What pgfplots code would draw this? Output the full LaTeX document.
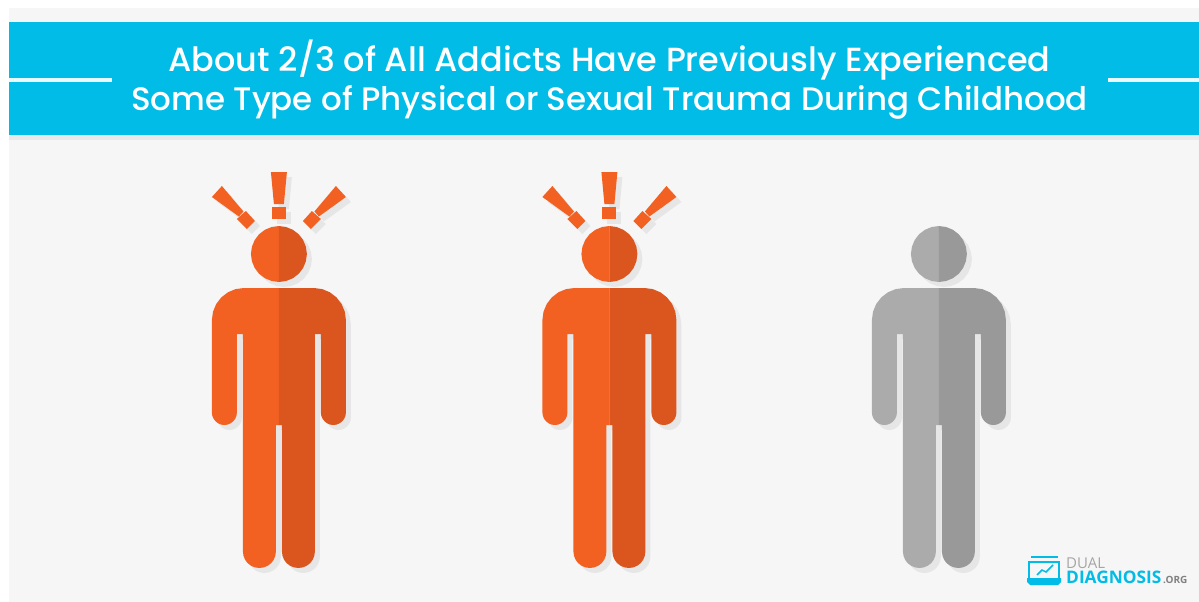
\documentclass[border=0pt]{standalone}
\usepackage{pgfplots}
\pgfplotsset{compat=1.18}
\usepackage{pgfplotstable}
\usepackage{fontspec}
\setmainfont{Poppins}
\newfontfamily\titlefont{Poppins Medium}
\newfontfamily\logofont{Open Sans}

\definecolor{paper}{HTML}{F6F6F6}
\definecolor{banner}{HTML}{00BCE6}
\definecolor{bannershadow}{HTML}{E9E9E9}
\definecolor{shadow}{HTML}{E6E6E6}
\definecolor{orangeL}{HTML}{F26122}
\definecolor{orangeD}{HTML}{DB551E}
\definecolor{grayL}{HTML}{ABABAB}
\definecolor{grayD}{HTML}{999999}
\definecolor{logogray}{HTML}{A6A6A6}

% left half of the figure, x relative to its centre, y in image pixels
\pgfplotstableread{
x y
0 288
-35 288
-43.3 289.1
-51 292.3
-57.6 297.4
-62.7 304
-65.9 311.7
-67 320
-67 412.5
-66.6 415.7
-65.3 418.75
-63.3 421.3
-60.75 423.3
-57.7 424.6
-54.5 425
-51.3 424.6
-48.25 423.3
-45.7 421.3
-43.7 418.75
-42.4 415.7
-42 412.5
-42 334
-36 334
-36 551.5
-35.4 555.8
-33.8 559.75
-31.2 563.2
-27.75 565.8
-23.8 567.4
-19.5 568
-15.2 567.4
-11.25 565.8
-7.8 563.2
-5.2 559.75
-3.6 555.8
-3 551.5
-3 425
0 425
}\bodytbl

\pgfplotstableread{
x y
0 226
-7.2 227
-14 229.8
-19.8 234.2
-24.2 240
-27 246.8
-28 254
-27 261.2
-24.2 268
-19.8 273.8
-14 278.2
-7.2 281
0 282
}\headtbl

\pgfplotstableread{
x y
-8 172
8 172
5 204
-5 204
}\barmid
\pgfplotstableread{
x y
-7 207
7 207
7 219
-7 219
}\dotmid
\pgfplotstableread{
x y
-57 186
-67 197
-40 216.5
-35.5 211.5
}\barside
\pgfplotstableread{
x y
-33 211
-24 221
-32 229
-42 219
}\dotside

% colour, centre x, mirror sign, y shift, table
\newcommand\shape[5]{\addplot[fill=#1,draw=none] table[x expr=#2+#3*(\thisrow{x}),y expr=\thisrow{y}+#4]{#5};}

\newcommand\figureat[3]{%
  \shape{shadow}{#1+5}{1}{5}{\bodytbl}
  \shape{shadow}{#1+5}{-1}{5}{\bodytbl}
  \shape{shadow}{#1+5}{1}{5}{\headtbl}
  \shape{shadow}{#1+5}{-1}{5}{\headtbl}
  \shape{#2}{#1}{1}{0}{\bodytbl}
  \shape{#3}{#1}{-1}{0}{\bodytbl}
  \shape{#2}{#1}{1}{0}{\headtbl}
  \shape{#3}{#1}{-1}{0}{\headtbl}
}
\newcommand\alarmat[1]{%
  \shape{shadow}{#1+5}{1}{5}{\barmid}
  \shape{shadow}{#1+5}{1}{5}{\dotmid}
  \shape{shadow}{#1+5}{1}{5}{\barside}
  \shape{shadow}{#1+5}{1}{5}{\dotside}
  \shape{shadow}{#1+5}{-1}{5}{\barside}
  \shape{shadow}{#1+5}{-1}{5}{\dotside}
  \shape{orangeL}{#1}{1}{0}{\barmid}
  \shape{orangeL}{#1}{1}{0}{\dotmid}
  \shape{orangeL}{#1}{1}{0}{\barside}
  \shape{orangeL}{#1}{1}{0}{\dotside}
  \shape{orangeL}{#1}{-1}{0}{\barside}
  \shape{orangeL}{#1}{-1}{0}{\dotside}
}

\begin{document}
\begin{tikzpicture}
\begin{axis}[
    scale only axis,
    width=1199pt, height=602pt,
    xmin=0, xmax=1199,
    ymin=0, ymax=602,
    y dir=reverse,
    hide axis,
    no markers,
]
% backgrounds, the white one keeps the page as large as the axis
\addplot[fill=white,draw=none] coordinates {(0,0) (1199,0) (1199,602) (0,602)};
\addplot[fill=paper,draw=none] coordinates {(9,8) (1199,8) (1199,602) (9,602)};
\addplot[fill=bannershadow,draw=none] coordinates {(9,135) (1199,135) (1199,140) (9,140)};
\addplot[fill=banner,draw=none] coordinates {(9,22) (1199,22) (1199,135) (9,135)};
\addplot[color=white!92!banner,line width=3.5pt] coordinates {(9,80) (112,80)};
\addplot[color=white!92!banner,line width=3.5pt] coordinates {(1108,80) (1199,80)};

\figureat{278.9}{orangeL}{orangeD}
\alarmat{278.9}
\figureat{609.4}{orangeL}{orangeD}
\alarmat{609.4}
\figureat{938.9}{grayL}{grayD}

% logo icon
\addplot[color=banner,line width=2.2pt] coordinates {(1031,557) (1058,557)};
\addplot[color=banner,line width=2.2pt] coordinates {(1029,579) (1029,562) (1059,562) (1059,579)};
\addplot[fill=banner,draw=none] coordinates {(1027,578) (1061,578) (1061,582) (1058,585) (1030,585) (1027,582)};
\addplot[color=banner,line width=1.5pt] coordinates {(1037,575) (1042,570) (1046,572) (1053,565)};

\node[anchor=base,white,font=\titlefont\fontsize{33.45}{33.45}\selectfont] at (axis cs:609.5,71) {About 2/3 of All Addicts Have Previously Experienced};
\node[anchor=base,white,font=\titlefont\fontsize{32.5}{32.5}\selectfont] at (axis cs:609.5,110) {Some Type of Physical or Sexual Trauma During Childhood};
\node[anchor=base west,inner sep=0pt,text=logogray,font=\logofont\fontsize{15}{15}\selectfont] at (axis cs:1066,568) {DUAL};
\node[anchor=base west,inner sep=0pt,text=banner,font=\logofont\bfseries\fontsize{17.3}{17.3}\selectfont] at (axis cs:1066,583) {DIAGNOSIS};
\node[anchor=base west,inner sep=0pt,text=gray,font=\logofont\bfseries\fontsize{10}{10}\selectfont] at (axis cs:1163,583) {.ORG};
\end{axis}
\end{tikzpicture}
\end{document}
